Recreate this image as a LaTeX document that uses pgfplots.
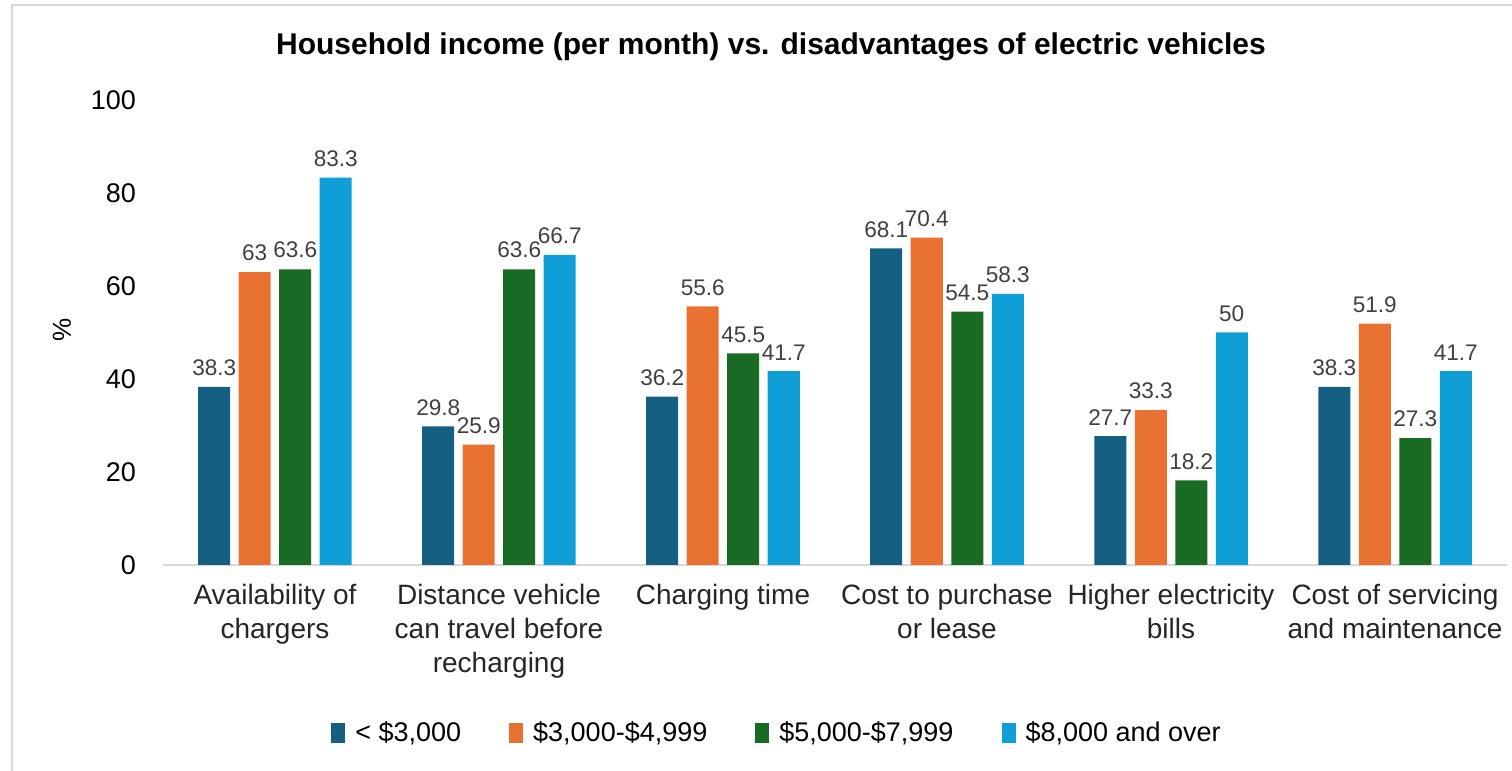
\documentclass[border=0pt]{standalone}
\usepackage{pgfplots}
\pgfplotsset{compat=1.18}
\usepackage{fontspec}
\setmainfont{Liberation Sans}
\definecolor{c1}{HTML}{156082}
\definecolor{c2}{HTML}{E97132}
\definecolor{c3}{HTML}{196B24}
\definecolor{c4}{HTML}{0F9ED5}
\definecolor{txt}{HTML}{404040}
\definecolor{frame}{HTML}{D9D9D9}
\begin{document}
\begin{tikzpicture}
\path[use as bounding box] (-81.5pt,-103pt) rectangle (674.5pt,282.5pt);
\draw[frame, line width=1.2pt] (-75.5pt,-104pt) -- (-75.5pt,280pt) -- (675pt,280pt);
\node[font=\bfseries\fontsize{15}{18}\selectfont, text=black] at (304pt,259pt) {Household income (per month) vs. disadvantages of electric vehicles};
\node[rotate=90, font=\fontsize{13}{15}\selectfont, text=black] at (-50.5pt,117.5pt) {\%};
\begin{axis}[
  at={(0pt,0pt)}, anchor=south west,
  scale only axis, width=672pt, height=232.5pt,
  ymin=0, ymax=100, xmin=-0.5, xmax=5.5,
  ybar=4.25pt, bar width=16pt,
  axis x line*=bottom, axis y line*=left,
  y axis line style={draw=none},
  x axis line style={draw=frame, line width=1pt},
  major tick length=0pt,
  ytick={0,20,40,60,80,100},
  xtick={0,1,2,3,4,5},
  xticklabels={{Availability of\\chargers},{Distance vehicle\\can travel before\\recharging},{Charging time},{Cost to purchase\\or lease},{Higher electricity\\bills},{Cost of servicing\\and maintenance}},
  x tick label style={align=center, font=\fontsize{14}{17}\selectfont, text=black!85, anchor=north, yshift=-6pt},
  y tick label style={font=\fontsize{13.5}{16}\selectfont, text=black, xshift=-10pt},
  /pgf/number format/assume math mode=true,
  nodes near coords,
  every node near coord/.append style={font=\fontsize{11.3}{13}\selectfont, text=txt, yshift=2pt},
  legend columns=4,
  legend style={at={(0.4576,-0.361)}, anchor=center, draw=none, font=\fontsize{13.5}{16}\selectfont,
    /tikz/every even column/.append style={column sep=22pt},
    /tikz/every odd column/.append style={column sep=3pt}},
  legend cell align=left,
  legend image code/.code={\fill[#1] (0pt,-5pt) rectangle (7pt,5pt);},
]
\addplot[fill=c1, draw=none] coordinates {(0,38.3) (1,29.8) (2,36.2) (3,68.1) (4,27.7) (5,38.3)};
\addplot[fill=c2, draw=none] coordinates {(0,63) (1,25.9) (2,55.6) (3,70.4) (4,33.3) (5,51.9)};
\addplot[fill=c3, draw=none] coordinates {(0,63.6) (1,63.6) (2,45.5) (3,54.5) (4,18.2) (5,27.3)};
\addplot[fill=c4, draw=none] coordinates {(0,83.3) (1,66.7) (2,41.7) (3,58.3) (4,50) (5,41.7)};
\legend{{< \$3,000},{\$3,000-\$4,999},{\$5,000-\$7,999},{\$8,000 and over}}
\end{axis}
\end{tikzpicture}
\end{document}
